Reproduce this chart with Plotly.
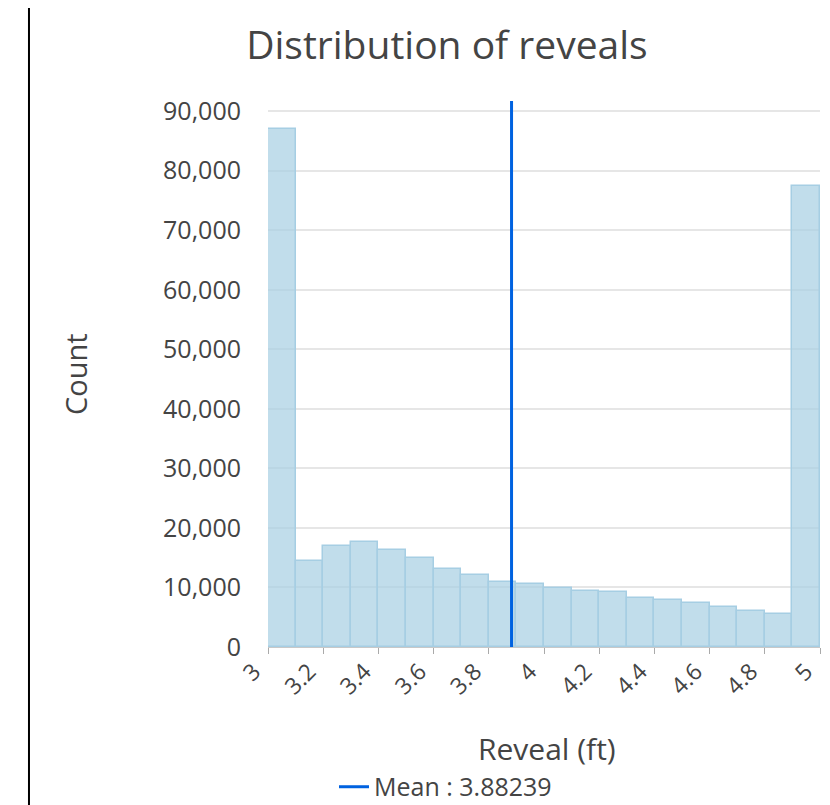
import plotly.graph_objects as go

# histogram of reveal heights (ft), 0.1 ft bins from 3 to 5
bin_edges = [3.0, 3.1, 3.2, 3.3, 3.4, 3.5, 3.6, 3.7, 3.8, 3.9, 4.0,
             4.1, 4.2, 4.3, 4.4, 4.5, 4.6, 4.7, 4.8, 4.9, 5.0]
counts = [87000, 14400, 16900, 17600, 16300, 14900, 13100, 12100, 11000, 10600,
          9950, 9400, 9270, 8260, 7920, 7420, 6690, 6120, 5560, 77350]
mean_reveal = 3.88239

x_ticks = [3, 3.2, 3.4, 3.6, 3.8, 4, 4.2, 4.4, 4.6, 4.8, 5]
x_tick_labels = ["3", "3.2", "3.4", "3.6", "3.8", "4", "4.2", "4.4", "4.6", "4.8", "5"]
y_ticks = [0, 10000, 20000, 30000, 40000, 50000, 60000, 70000, 80000, 90000]
y_max = 91700

centers = [(a + b) / 2 for a, b in zip(bin_edges[:-1], bin_edges[1:])]
widths = [b - a for a, b in zip(bin_edges[:-1], bin_edges[1:])]

FONT = "Open Sans, Noto Sans, sans-serif"

fig = go.Figure()
fig.add_trace(go.Bar(
    x=centers,
    y=counts,
    width=widths,
    marker=dict(color="rgba(166,206,227,0.7)", line=dict(color="#a6cee3", width=1.5)),
    showlegend=False,
    hoverinfo="x+y",
))

fig.add_shape(
    type="line", xref="x", yref="y domain",
    x0=mean_reveal, x1=mean_reveal, y0=0, y1=1,
    line=dict(color="#0062e0", width=3),
    showlegend=True, name=f"Mean : {mean_reveal}",
)

# container border on the left
fig.add_shape(
    type="line", xref="paper", yref="paper",
    x0=-0.433, x1=-0.433, y0=-0.4, y1=1.4,
    line=dict(color="black", width=2),
)

# axis titles as annotations (standoff is ignored without automargin)
fig.add_annotation(text="Reveal (ft)", xref="paper", yref="paper",
                   x=0.5054, y=-0.185, xanchor="center", yanchor="middle",
                   showarrow=False, font=dict(size=30, color="#444"))
fig.add_annotation(text="Count", xref="paper", yref="paper",
                   x=-0.3496, y=0.5, xanchor="center", yanchor="middle",
                   textangle=-90, showarrow=False, font=dict(size=29, color="#444"))

# page body has an 8px margin, so the figure is 8px smaller than the window
fig.update_layout(
    width=822,
    height=797,
    template="plotly_white",
    font=dict(family=FONT, color="#444"),
    title=dict(text="Distribution of reveals", font=dict(size=39, color="#444"),
               xref="container", x=0.534, xanchor="center",
               yref="container", y=0.9536, yanchor="middle"),
    margin=dict(l=260, r=10, t=93, b=158),
    bargap=0,
    legend=dict(orientation="h", xref="container", yref="container",
                x=0.3966, xanchor="left", y=0.0226, yanchor="middle",
                font=dict(size=25)),
    plot_bgcolor="white",
)
fig.update_xaxes(
    range=[3, 5],
    tickvals=x_ticks,
    ticktext=x_tick_labels,
    tickangle=-45,
    ticks="outside",
    ticklen=6,
    tickcolor="#aaa",
    showgrid=False,
    showline=True,
    linecolor="#c8c8c8",
    zeroline=False,
    automargin=False,
    tickfont=dict(size=23),
    ticklabelshift=-14,
    ticklabelstandoff=-5,
)
fig.update_yaxes(
    range=[0, y_max],
    tickvals=y_ticks,
    tickformat=",",
    showgrid=True,
    gridcolor="#e6e6e6",
    gridwidth=1.5,
    zeroline=False,
    automargin=False,
    tickfont=dict(size=25),
    ticklabelstandoff=26,
)

fig.write_html("out.html")
